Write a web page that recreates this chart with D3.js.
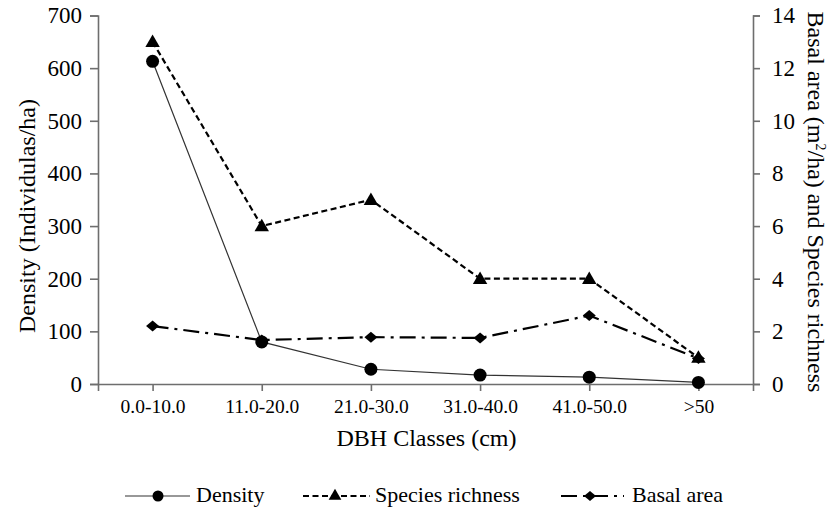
<!DOCTYPE html>
<html>
<head>
<meta charset="utf-8">
<script src="https://cdn.jsdelivr.net/npm/d3@7"></script>
<style>
body{margin:0;background:#fff;}
text{font-family:"Liberation Serif","Times New Roman",serif;fill:#000;}
</style>
</head>
<body>
<svg id="chart" width="832" height="511"></svg>
<script>
const categories = ["0.0-10.0","11.0-20.0","21.0-30.0","31.0-40.0","41.0-50.0",">50"];
const density = [613, 80, 28, 17, 13, 3];
const speciesRichness = [13, 6, 7, 4, 4, 1];
const basalArea = [2.2, 1.67, 1.78, 1.75, 2.6, 0.97];
const leftTicks = [0,100,200,300,400,500,600,700];
const rightTicks = [0,2,4,6,8,10,12,14];

const svg = d3.select("#chart");
const L = 98, R = 753, T = 15.5, B = 384;
const axisColor = "#6e6e6e";

const x = d3.scalePoint().domain(categories).range([L, R]).padding(0.5);
const yL = d3.scaleLinear().domain([0, 700]).range([B, T]);
const yR = d3.scaleLinear().domain([0, 14]).range([B, T]);

// axes
const gx = svg.append("g").attr("transform", `translate(0,${B})`)
  .call(d3.axisBottom(x).tickSizeOuter(0).tickSize(7).tickPadding(8));
gx.selectAll("text").style("font-size", "19.5px");
const gl = svg.append("g").attr("transform", `translate(${L},0)`)
  .call(d3.axisLeft(yL).tickValues(leftTicks).tickSizeOuter(0).tickSize(8).tickPadding(8));
gl.selectAll("text").style("font-size", "23px");
const gr = svg.append("g").attr("transform", `translate(${R},0)`)
  .call(d3.axisRight(yR).tickValues(rightTicks).tickSizeOuter(0).tickSize(7).tickPadding(12));
gr.selectAll("text").style("font-size", "23px");
svg.selectAll(".domain, .tick line").attr("stroke", axisColor).attr("stroke-width", 1.6);

// titles
svg.append("text").attr("x", (L+R)/2+1).attr("y", 446).attr("text-anchor","middle")
  .style("font-size","24px").text("DBH Classes (cm)");
svg.append("text").attr("transform","translate(35,216) rotate(-90)").attr("text-anchor","middle")
  .style("font-size","24px").text("Density (Individulas/ha)");
const rt = svg.append("text").attr("transform","translate(808,202) rotate(90)").attr("text-anchor","middle")
  .style("font-size","24px");
rt.append("tspan").text("Basal area (m");
rt.append("tspan").attr("dy","-8").style("font-size","14px").text("2");
rt.append("tspan").attr("dy","8").text("/ha) and Species richness");

// lines
const lineL = d3.line().x((d,i)=>x(categories[i])).y(d=>yL(d));
const lineR = d3.line().x((d,i)=>x(categories[i])).y(d=>yR(d));

svg.append("path").datum(basalArea).attr("d", lineR).attr("fill","none")
  .attr("stroke","#000").attr("stroke-width",2.2).attr("stroke-dasharray","16,6,3,6");
svg.append("path").datum(speciesRichness).attr("d", lineR).attr("fill","none")
  .attr("stroke","#000").attr("stroke-width",2.2).attr("stroke-dasharray","6,3.5");
svg.append("path").datum(density).attr("d", lineL).attr("fill","none")
  .attr("stroke","#333").attr("stroke-width",1.2);

const tri = d3.symbol().type(d3.symbolTriangle).size(90);
const diaPath = (w,h) => `M${-w/2},0L0,${-h/2}L${w/2},0L0,${h/2}Z`;

svg.append("g").selectAll("path").data(basalArea).join("path")
  .attr("d", diaPath(13,11)).attr("transform",(d,i)=>`translate(${x(categories[i])},${yR(d)})`).attr("fill","#000");
svg.append("g").selectAll("path").data(speciesRichness).join("path")
  .attr("d", tri).attr("transform",(d,i)=>`translate(${x(categories[i])},${yR(d)+1})`).attr("fill","#000");
svg.append("g").selectAll("circle").data(density).join("circle")
  .attr("cx",(d,i)=>x(categories[i])).attr("cy",d=>yL(d)).attr("r",6.5).attr("fill","#000");

// legend
const ly = 496;
const lg = svg.append("g");
lg.append("line").attr("x1",125).attr("x2",190).attr("y1",ly).attr("y2",ly).attr("stroke","#333").attr("stroke-width",1.2);
lg.append("circle").attr("cx",158).attr("cy",ly).attr("r",5.5).attr("fill","#000");
lg.append("text").attr("x",196).attr("y",ly+6).style("font-size","22px").text("Density");

lg.append("line").attr("x1",303).attr("x2",370).attr("y1",ly).attr("y2",ly).attr("stroke","#000").attr("stroke-width",2).attr("stroke-dasharray","6,3.5");
lg.append("path").attr("d", d3.symbol().type(d3.symbolTriangle).size(70)).attr("transform",`translate(335,${ly})`).attr("fill","#000");
lg.append("text").attr("x",375).attr("y",ly+6).style("font-size","22px").text("Species richness");

lg.append("line").attr("x1",558).attr("x2",624).attr("y1",ly).attr("y2",ly).attr("stroke","#000").attr("stroke-width",2).attr("stroke-dasharray","16,6,3,6").attr("stroke-dashoffset",-3);
lg.append("path").attr("d", diaPath(12,10)).attr("transform",`translate(590,${ly})`).attr("fill","#000");
lg.append("text").attr("x",632).attr("y",ly+6).style("font-size","22px").text("Basal area");
</script>
</body>
</html>
